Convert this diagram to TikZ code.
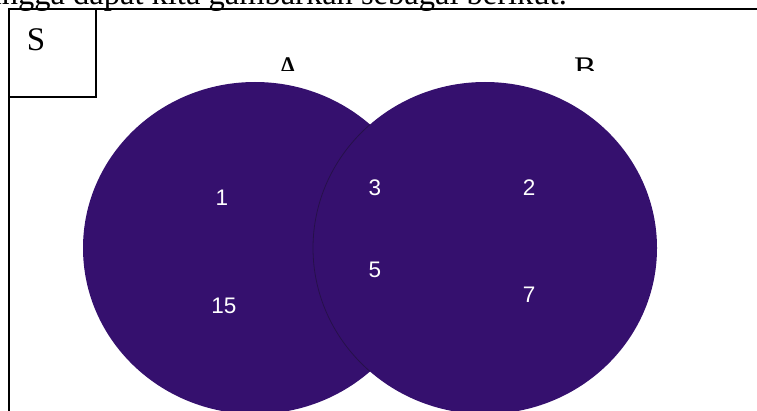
\documentclass[tikz,border=0pt]{standalone}
\usepackage{fontspec}
\setmainfont{Liberation Serif}
\newfontfamily\numfont{Liberation Sans}
\definecolor{vennfill}{HTML}{35106E}
\definecolor{vennedge}{HTML}{26104A}
\tikzset{
  frameline/.style={draw=black, line width=1.8pt},
  setfill/.style={fill=vennfill},
  numlabel/.style={text=white, inner sep=0pt, anchor=center, font=\numfont\fontsize{22.5}{22.5}\selectfont},
  serlabel/.style={inner sep=0pt, font=\fontsize{33}{33}\selectfont}
}
\begin{document}
\begin{tikzpicture}[x=1pt,y=1pt]
\useasboundingbox (0,0) rectangle (757,410);
\clip (0,0) rectangle (757,410);
% cut-off sentence above the figure
\node[inner sep=0pt, anchor=base east, font=\fontsize{32.5}{33}\selectfont] (sent) at (567,405) {hingga dapat kita gambarkan sebagai berikut.};
% universe frame
\coordinate (fbl) at (9,-20);
\coordinate (ftl) at (9,401);
\coordinate (ftr) at (780,401);
\draw[frameline] (fbl) -- (ftl) -- (ftr);
% S box
\draw[frameline] (9,401) rectangle (96,313);
\node[serlabel] (S) at (36,370) {S};
% set labels, partly hidden
\begin{scope}
\clip (0,339) rectangle (757,410);
\node[serlabel, anchor=base] (lA) at (288,330) {A};
\node[serlabel, anchor=base] (lB) at (585,330) {B};
\end{scope}
% sets
\fill[setfill] (255,162) ellipse [x radius=172, y radius=166];
\fill[setfill] (485,162) ellipse [x radius=172, y radius=166];
\begin{scope}
\clip (255,162) ellipse [x radius=172, y radius=166];
\draw[vennedge, line width=0.8pt] (485,162) ellipse [x radius=172, y radius=166];
\end{scope}
% numbers
\node[numlabel] (n1) at (222,212) {1};
\node[numlabel] (n15) at (224,104) {15};
\node[numlabel] (n3) at (375,222) {3};
\node[numlabel] (n5) at (375,140) {5};
\node[numlabel] (n2) at (529,222) {2};
\node[numlabel] (n7) at (529,115) {7};
\end{tikzpicture}
\end{document}
